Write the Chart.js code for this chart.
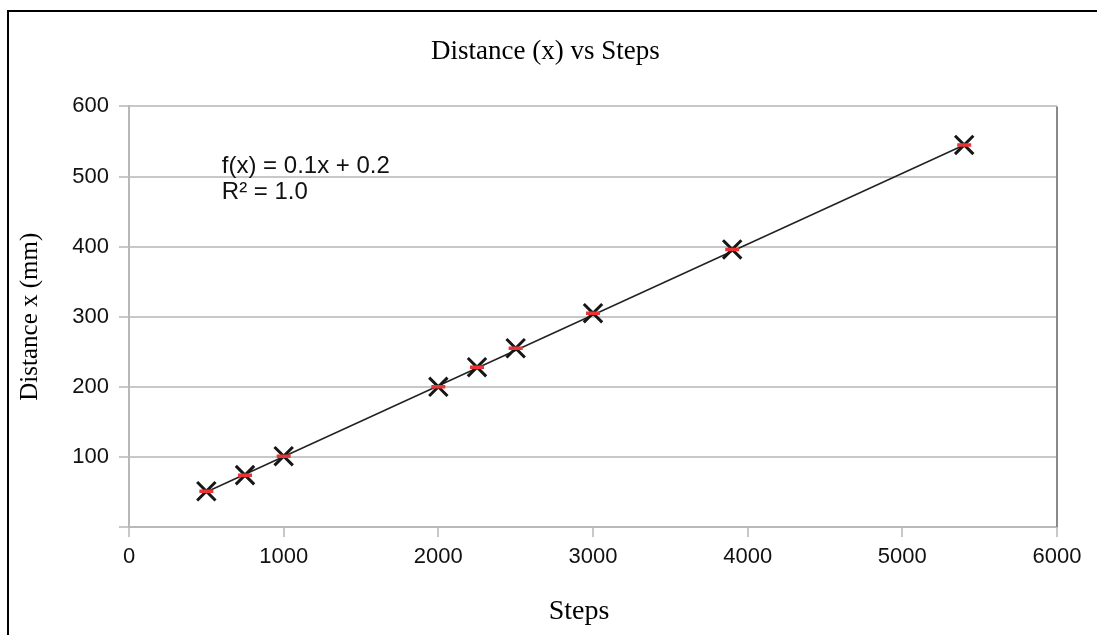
<!DOCTYPE html>
<html>
<head>
<meta charset="utf-8">
<script src="https://cdn.jsdelivr.net/npm/chart.js@4.4.0/dist/chart.umd.min.js"></script>
<style>
    html, body { margin: 0; padding: 0; background: #fff; overflow: hidden; }
    #wrap { position: relative; width: 1097px; height: 635px; }
    #frame { position: absolute; left: 7px; top: 10px; width: 1200px; height: 700px;
             border-left: 2px solid #000; border-top: 2px solid #000; pointer-events: none; }
</style>
</head>
<body>
<div id="wrap">
    <canvas id="chart" width="1097" height="635"></canvas>
    <div id="frame"></div>
</div>
<script>
// measured points
const stepsX = [500, 750, 1000, 2000, 2250, 2500, 3000, 3900, 5400];
const distanceY = [51, 74, 101, 200, 228, 255, 305, 396, 545];

// trendline ends as drawn in the picture
const trendX = [500, 5400];
const trendY = [50, 545];

const xTicks = [0, 1000, 2000, 3000, 4000, 5000, 6000];
const yTicks = [0, 100, 200, 300, 400, 500, 600];

const fitText = ['f(x) = 0.1x + 0.2', 'R\u00B2 = 1.0'];

const toPoints = (xs, ys) => xs.map((x, i) => ({ x: x, y: ys[i] }));
const SP = '\u00A0';

// darker right edge of the plot + regression text
const extras = {
    id: 'extras',
    afterDatasetsDraw(chart) {
        const { ctx, chartArea, scales } = chart;
        ctx.save();
        ctx.strokeStyle = '#8a8a8a';
        ctx.lineWidth = 2;
        ctx.beginPath();
        ctx.moveTo(chartArea.right, chartArea.top);
        ctx.lineTo(chartArea.right, chartArea.bottom);
        ctx.stroke();

        ctx.fillStyle = '#111';
        ctx.font = '24px "Liberation Sans", Arial, sans-serif';
        ctx.textBaseline = 'middle';
        ctx.textAlign = 'left';
        const tx = scales.x.getPixelForValue(600);
        ctx.fillText(fitText[0], tx, scales.y.getPixelForValue(515));
        ctx.fillText(fitText[1], tx, scales.y.getPixelForValue(477));
        ctx.restore();
    }
};

new Chart(document.getElementById('chart').getContext('2d'), {
    type: 'scatter',
    data: {
        datasets: [
            {
                label: 'dash',
                data: toPoints(stepsX, distanceY),
                pointStyle: 'line',
                pointRadius: 7,
                borderColor: '#ea3436',
                borderWidth: 3.5,
                order: 0
            },
            {
                label: 'Distance',
                data: toPoints(stepsX, distanceY),
                pointStyle: 'crossRot',
                pointRadius: 13,
                borderColor: '#161616',
                borderWidth: 3,
                order: 1
            },
            {
                label: 'Trend',
                type: 'line',
                data: toPoints(trendX, trendY),
                borderColor: '#222',
                borderWidth: 1.5,
                pointRadius: 0,
                fill: false,
                order: 2
            }
        ]
    },
    options: {
        responsive: false,
        animation: false,
        layout: { padding: { left: 0, right: 40, top: 0, bottom: 0 } },
        plugins: {
            legend: { display: false },
            tooltip: { enabled: false },
            title: {
                display: true,
                text: SP.repeat(5) + 'Distance (x) vs Steps',
                color: '#000',
                font: { family: '"Liberation Serif", "Times New Roman", serif', size: 27, weight: 'normal' },
                padding: { top: 36, bottom: 38 }
            }
        },
        scales: {
            x: {
                type: 'linear',
                min: 0,
                max: 6000,
                afterBuildTicks: s => { s.ticks = xTicks.map(v => ({ value: v })); },
                afterFit: s => { s.height = 108; },
                grid: { drawOnChartArea: false, drawTicks: true, tickLength: 10, color: '#c8c8c8', lineWidth: 2 },
                border: { display: true, color: '#b8b8b8', width: 2 },
                ticks: {
                    color: '#111',
                    padding: 7,
                    font: { family: '"Liberation Sans", Arial, sans-serif', size: 22 },
                    callback: v => String(v)
                },
                title: {
                    display: true,
                    text: 'Steps' + SP.repeat(4),
                    color: '#000',
                    font: { family: '"Liberation Serif", "Times New Roman", serif', size: 28 },
                    padding: { top: 0, bottom: 7 }
                }
            },
            y: {
                type: 'linear',
                min: 0,
                max: 600,
                afterBuildTicks: s => { s.ticks = yTicks.map(v => ({ value: v })); },
                afterFit: s => { s.width = 129; },
                grid: { drawTicks: true, tickLength: 10, color: '#c8c8c8', lineWidth: 2 },
                border: { display: true, color: '#b8b8b8', width: 2 },
                ticks: {
                    color: '#111',
                    padding: 10,
                    font: { family: '"Liberation Sans", Arial, sans-serif', size: 22 },
                    callback: v => (v === 0 ? '' : String(v))
                },
                title: {
                    display: true,
                    text: 'Distance x (mm)',
                    color: '#000',
                    font: { family: '"Liberation Serif", "Times New Roman", serif', size: 25 },
                    padding: { top: 15, bottom: 0 }
                }
            }
        }
    },
    plugins: [extras]
});
</script>
</body>
</html>
